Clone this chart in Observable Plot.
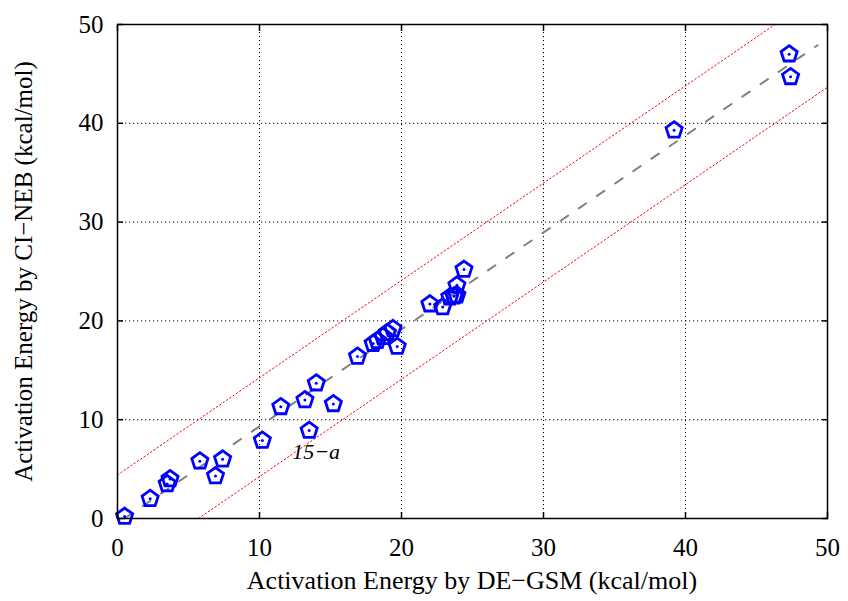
<!DOCTYPE html>
<html>
<head>
<meta charset="utf-8">
<script src="https://cdn.jsdelivr.net/npm/d3@7"></script>
<script src="https://cdn.jsdelivr.net/npm/@observablehq/plot@0.6"></script>
<style>
  html, body { margin: 0; padding: 0; background: #fff; }
  #wrap { width: 848px; font-family: "Liberation Serif", "Times New Roman", serif; }
  #xtitle { box-sizing: border-box; width: 848px; padding: 0 21px 0 117px; text-align: center;
            font-size: 26px; line-height: 36px; height: 38px; color: #000; }
</style>
</head>
<body>
<div id="wrap">
  <div id="chart"></div>
  <div id="xtitle">Activation Energy by DE−GSM (kcal/mol)</div>
</div>
<script>
// Data
const degsm = [0.5, 2.3, 3.5, 3.7, 5.8, 6.9, 7.4, 10.2, 11.5, 13.2, 14.0, 15.2, 13.5,
  16.9, 18.0, 18.3, 18.7, 19.0, 19.4, 19.7, 22.0, 22.9, 23.4, 23.7, 23.9, 23.9, 24.4,
  39.2, 47.3, 47.4];
const cineb = [0.2, 2.0, 3.5, 4.0, 5.8, 4.3, 6.0, 7.9, 11.3, 12.0, 13.7, 11.6, 8.9,
  16.4, 17.7, 18.0, 18.4, 18.8, 19.2, 17.4, 21.7, 21.4, 22.4, 22.5, 22.6, 23.6, 25.2,
  39.3, 47.0, 44.7];
const labelNames = ["15−a"];
const labelX = [13.5];
const labelY = [8.9];

const fitX = [0.5, 49.3];
const fitY = [0.0, 47.9];
const upperX = [0, 46.3];
const upperY = [4.4, 50];
const lowerX = [5.7, 50];
const lowerY = [0, 43.65];

const ticks = [0, 10, 20, 30, 40, 50];
const gridTicks = [10, 20, 30, 40];

const points = degsm.map((x, i) => ({x, y: cineb[i]}));
const labels = labelNames.map((t, i) => ({t, x: labelX[i], y: labelY[i]}));
const fit = fitX.map((x, i) => ({x, y: fitY[i]}));
const upper = upperX.map((x, i) => ({x, y: upperY[i]}));
const lower = lowerX.map((x, i) => ({x, y: lowerY[i]}));

const SERIF = "Liberation Serif";

const pentagon = {
  draw(context, size) {
    const r = Math.sqrt(size / Math.PI);
    for (let k = 0; k < 5; ++k) {
      const a = -Math.PI / 2 + k * 2 * Math.PI / 5;
      const px = r * Math.cos(a), py = r * Math.sin(a);
      if (k === 0) context.moveTo(px, py); else context.lineTo(px, py);
    }
    context.closePath();
  }
};

const chart = Plot.plot({
  width: 848,
  height: 563,
  marginLeft: 117,
  marginRight: 21,
  marginTop: 24,
  marginBottom: 45,
  style: {fontFamily: SERIF, fontSize: "25px"},
  x: {domain: [0, 50]},
  y: {domain: [0, 50]},
  marks: [
    Plot.ruleX(gridTicks, {stroke: "#000", strokeWidth: 1, strokeDasharray: "1.2,2.8"}),
    Plot.ruleY(gridTicks, {stroke: "#000", strokeWidth: 1, strokeDasharray: "1.2,2.8"}),
    Plot.line(upper, {x: "x", y: "y", stroke: "#ff0000", strokeWidth: 1, strokeDasharray: "1.5,2.5"}),
    Plot.line(lower, {x: "x", y: "y", stroke: "#ff0000", strokeWidth: 1, strokeDasharray: "1.5,2.5"}),
    Plot.line(fit, {x: "x", y: "y", stroke: "#808080", strokeWidth: 2, strokeDasharray: "9,13"}),
    Plot.dot(points, {x: "x", y: "y", symbol: pentagon, r: 8.5, stroke: "#0000ff", strokeWidth: 2.8, fill: "none"}),
    Plot.dot(points, {x: "x", y: "y", r: 1.5, fill: "#0000ff", stroke: "none"}),
    Plot.text(labels, {x: "x", y: "y", text: "t", dx: 7, dy: 21, fontStyle: "italic", fontSize: 22, fontFamily: SERIF, fill: "#000"}),
    Plot.frame({stroke: "#000", strokeWidth: 1.5}),
    Plot.axisX(ticks, {anchor: "bottom", tickSize: -6, tickPadding: 26, strokeWidth: 1.5, fontSize: 25, fontFamily: SERIF, label: null}),
    Plot.axisX(ticks, {anchor: "top", tickSize: -6, text: null, strokeWidth: 1.5, label: null}),
    Plot.axisY(ticks, {anchor: "left", tickSize: -6, tickPadding: 20, strokeWidth: 1.5, fontSize: 25, fontFamily: SERIF,
      label: "Activation Energy by CI−NEB (kcal/mol)", labelAnchor: "center", labelArrow: "none", labelOffset: 103}),
    Plot.axisY(ticks, {anchor: "right", tickSize: -6, text: null, strokeWidth: 1.5, label: null})
  ]
});
document.getElementById("chart").appendChild(chart);
</script>
</body>
</html>
